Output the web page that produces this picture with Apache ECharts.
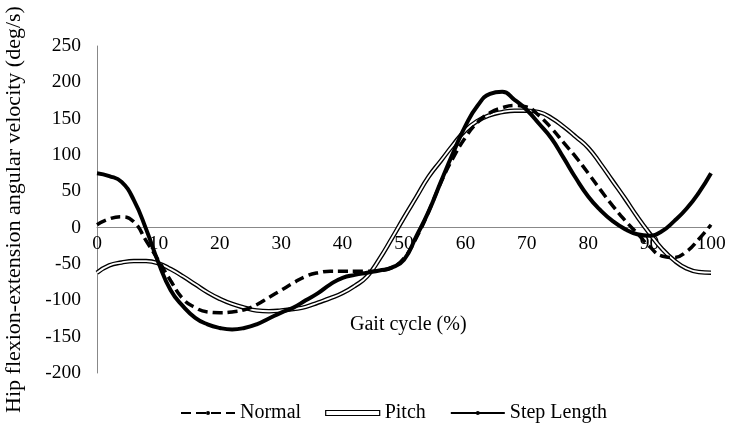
<!DOCTYPE html>
<html>
<head>
<meta charset="utf-8">
<script src="https://cdn.jsdelivr.net/npm/echarts@6/dist/echarts.min.js"></script>
<style>
  html, body { margin: 0; padding: 0; background: #fff; }
  #main { width: 750px; height: 444px; }
</style>
</head>
<body>
<div id="main"></div>
<script>
// gait cycle (%)
var cycle = [0,2,4,6,8,10,12,14,16,18,20,22,24,26,28,30,32,34,36,38,40,42,44,46,48,50,
  52,54,56,58,60,62,64,66,68,70,72,74,76,78,80,82,84,86,88,90,92,94,96,98,100];

var normal = [4,12,15,8,-18,-45,-73,-98,-110,-116,-117,-116,-113,-106,-96,-86,-76,-67,-62,-60,-60,-60,-60,-59,-55,-42,
  -14,22,62,96,124,145,158,165,168,166,154,137,117,97,75,52,30,10,-8,-26,-39,-41,-33,-16,4];

var pitch = [-62,-52,-48,-46,-46,-49,-57,-67,-78,-89,-98,-105,-110,-114,-115,-114,-112,-109,-103,-97,-90,-80,-67,-43,-15,14,
  42,70,92,114,134,147,155,159,161,161,159,151,139,125,110,88,64,40,15,-8,-29,-45,-56,-61,-62];

var stepLength = [75,71,63,38,-2,-48,-86,-108,-124,-133,-138,-140,-138,-133,-125,-117,-110,-100,-90,-78,-69,-65,-62,-59,-55,-44,
  -12,22,63,103,140,168,184,187,176,162,143,123,96,68,43,24,9,-2,-9,-11,-5,9,26,48,75];

var font = 'Liberation Serif';

function pairs(ys) {
  return cycle.map(function (x, i) { return [x, ys[i]]; });
}

var chart = echarts.init(document.getElementById('main'));

// plot is 327px tall for -200..250, so y=0 sits 200/450 of it above the bottom
var zeroOffset = -327 * 200 / 450;

chart.setOption({
  animation: false,
  textStyle: { fontFamily: font, color: '#000' },
  // x axis title sits inside the plot, under the curves
  title: {
    text: 'Gait cycle (%)',
    left: 350,
    top: 315,
    padding: 0,
    textStyle: { fontFamily: font, fontSize: 20, fontWeight: 'normal', color: '#000' }
  },
  grid: { left: 97, right: 39, top: 46, bottom: 71, containLabel: false, outerBoundsMode: 'none' },
  xAxis: {
    type: 'value',
    min: 0, max: 100, interval: 10,
    offset: zeroOffset,
    axisLine: { onZero: false, lineStyle: { color: '#888', width: 1 } },
    axisTick: { show: false },
    axisLabel: { fontFamily: font, fontSize: 19.5, color: '#000', margin: 6 },
    splitLine: { show: false }
  },
  yAxis: {
    type: 'value',
    min: -200, max: 250, interval: 50,
    name: 'Hip flexion-extension angular velocity (deg/s)',
    nameLocation: 'middle',
    nameGap: 72,
    nameTextStyle: { fontFamily: font, fontSize: 22, color: '#000' },
    axisLine: { show: true, lineStyle: { color: '#888', width: 1 } },
    axisTick: { show: false },
    axisLabel: { fontFamily: font, fontSize: 19.5, color: '#000', margin: 16 },
    splitLine: { show: false }
  },
  legend: {
    bottom: 16,
    left: 175,
    itemWidth: 54,
    itemHeight: 5,
    itemGap: 24,
    textStyle: { fontFamily: font, fontSize: 20, color: '#000' },
    data: [
      { name: 'Normal' },
      { name: 'Pitch', icon: 'rect', itemStyle: { color: '#fff', borderColor: '#000', borderWidth: 1.2 } },
      { name: 'Step Length' }
    ]
  },
  series: [
    {
      name: 'Pitch',
      type: 'line',
      data: pairs(pitch),
      smooth: true,
      symbol: 'none',
      lineStyle: { color: '#000', width: 4.5 },
      itemStyle: { color: '#000' },
      z: 2
    },
    {
      name: 'Pitch inner',
      type: 'line',
      data: pairs(pitch),
      smooth: true,
      symbol: 'none',
      lineStyle: { color: '#fff', width: 1.8 },
      itemStyle: { color: '#fff' },
      z: 3
    },
    {
      name: 'Normal',
      type: 'line',
      data: pairs(normal),
      smooth: true,
      symbol: 'none',
      lineStyle: { color: '#000', width: 3.5, type: [10, 5] },
      itemStyle: { color: '#000' },
      z: 4
    },
    {
      name: 'Step Length',
      type: 'line',
      data: pairs(stepLength),
      smooth: true,
      symbol: 'none',
      lineStyle: { color: '#000', width: 4 },
      itemStyle: { color: '#000' },
      z: 5
    }
  ]
});
</script>
</body>
</html>
